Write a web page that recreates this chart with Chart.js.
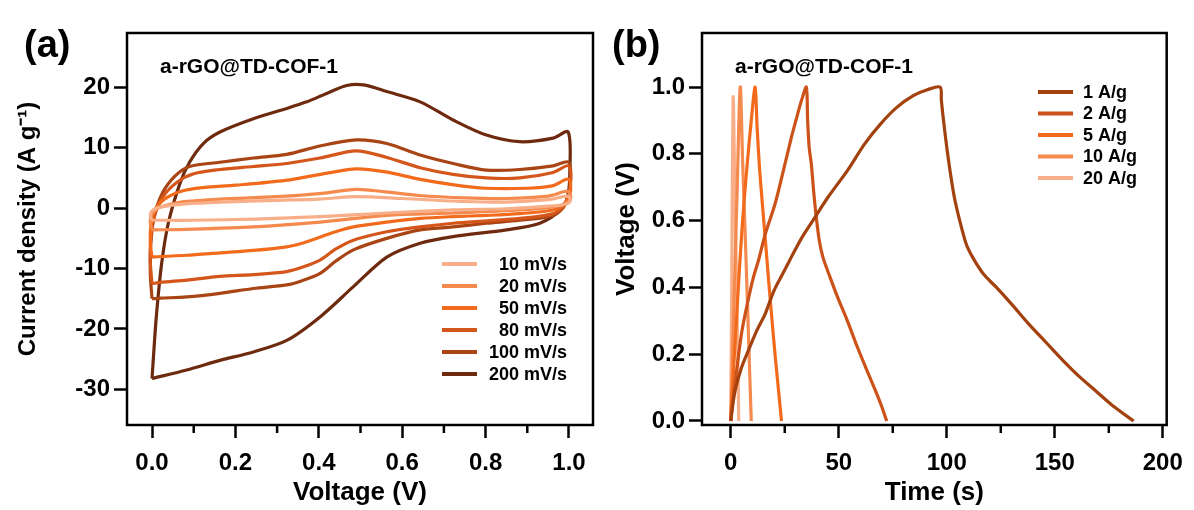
<!DOCTYPE html>
<html>
<head>
<meta charset="utf-8">
<script src="https://cdn.jsdelivr.net/npm/chart.js@4.4.1/dist/chart.umd.min.js"></script>
<style>
  html, body { margin: 0; padding: 0; background: #fff; }
  #wrapA { position: absolute; left: 0; top: 0; width: 600px; height: 510px; }
  #wrapB { position: absolute; left: 600px; top: 0; width: 594px; height: 510px; }
</style>
</head>
<body>
<div id="wrapA"><canvas id="cvChart"></canvas></div>
<div id="wrapB"><canvas id="gcdChart"></canvas></div>
<script>
'use strict';
const FONT = '"Liberation Sans", Arial, Helvetica, sans-serif';

// (a) CV loops: [voltage (V), current density (A/g)]
const cv10 = [[0,-2.0],[-0.004,-1.4],[-0.002,-0.6],[0.01,0.0],[0.03,0.3],[0.08,0.7],[0.163,1.0],[0.3,1.3],[0.4,1.5],[0.49,1.9],[0.6,1.6],[0.75,1.1],[0.85,1.0],[0.95,1.4],[0.998,2.0],[1.003,1.2],[0.99,0.6],[0.962,0.4],[0.85,-0.1],[0.722,-0.3],[0.563,-0.8],[0.403,-1.4],[0.25,-1.8],[0.1,-2.0],[0,-2.0]];
const cv20 = [[0,-3.6],[-0.004,-2.6],[-0.002,-1.2],[0.01,-0.2],[0.03,0.4],[0.07,1.0],[0.12,1.3],[0.163,1.5],[0.3,1.9],[0.4,2.4],[0.49,3.1],[0.56,2.7],[0.64,2.1],[0.75,1.7],[0.85,1.6],[0.95,2.0],[0.998,2.8],[1.004,1.6],[0.99,0.7],[0.962,0.2],[0.882,-0.3],[0.722,-0.8],[0.563,-1.2],[0.403,-2.3],[0.243,-3.1],[0.083,-3.5],[0,-3.6]];
const cv50 = [[0,-8.1],[-0.004,-6.0],[-0.003,-3.0],[0.005,-0.5],[0.03,1.5],[0.07,2.8],[0.12,3.4],[0.2,3.8],[0.32,4.6],[0.42,5.8],[0.49,6.5],[0.56,6.0],[0.64,4.8],[0.72,3.9],[0.8,3.3],[0.9,3.3],[0.96,3.7],[0.999,4.8],[1.003,2.5],[0.985,0.5],[0.962,-0.3],[0.882,-0.9],[0.802,-1.2],[0.722,-1.4],[0.643,-1.7],[0.563,-2.3],[0.483,-3.1],[0.44,-3.9],[0.403,-4.8],[0.36,-5.8],[0.323,-6.4],[0.243,-7.0],[0.163,-7.4],[0.083,-7.8],[0.02,-8.0],[0,-8.1]];
const cv80 = [[0,-12.5],[-0.004,-9.0],[-0.003,-5.0],[0.005,-1.5],[0.025,1.8],[0.06,4.3],[0.1,5.7],[0.163,6.4],[0.243,6.9],[0.323,7.4],[0.403,8.3],[0.49,9.5],[0.563,8.4],[0.643,6.7],[0.722,5.6],[0.802,5.0],[0.882,5.0],[0.962,5.9],[0.999,7.0],[1.003,3.5],[0.99,0.5],[0.962,-0.9],[0.882,-1.7],[0.802,-2.1],[0.722,-2.5],[0.643,-3.1],[0.563,-3.9],[0.483,-5.3],[0.44,-6.8],[0.403,-8.6],[0.36,-9.8],[0.323,-10.5],[0.243,-11.0],[0.163,-11.3],[0.083,-11.9],[0.02,-12.3],[0,-12.5]];
const cv100 = [[0,-15.0],[-0.004,-11.0],[-0.003,-6.0],[0.005,-1.5],[0.025,2.5],[0.055,5.3],[0.09,6.9],[0.163,7.6],[0.243,8.3],[0.323,8.9],[0.403,10.3],[0.49,11.3],[0.563,10.7],[0.643,8.8],[0.722,7.4],[0.802,6.3],[0.882,6.4],[0.962,7.0],[0.999,7.6],[1.003,4.0],[0.99,0.5],[0.962,-1.2],[0.882,-2.0],[0.802,-2.5],[0.722,-3.1],[0.643,-3.6],[0.563,-5.0],[0.483,-6.9],[0.44,-8.8],[0.403,-10.8],[0.36,-12.0],[0.323,-12.7],[0.243,-13.3],[0.163,-14.1],[0.083,-14.7],[0.02,-14.9],[0,-15.0]];
const cv200 = [[0,-28.2],[0.005,-23.0],[0.011,-17.4],[0.023,-9.2],[0.039,-2.5],[0.067,4.1],[0.09,7.6],[0.123,10.7],[0.163,12.6],[0.243,14.8],[0.323,16.5],[0.371,17.6],[0.419,19.0],[0.467,20.3],[0.507,20.4],[0.563,19.3],[0.643,17.6],[0.722,14.6],[0.802,12.1],[0.882,11.0],[0.962,11.6],[0.998,12.6],[1.002,6.0],[0.997,2.0],[0.98,-0.3],[0.93,-2.5],[0.85,-3.6],[0.722,-4.7],[0.643,-5.8],[0.563,-8.1],[0.483,-13.0],[0.403,-18.0],[0.323,-21.9],[0.243,-23.8],[0.163,-25.2],[0.083,-26.8],[0,-28.2]];
const cvLabels = ['10 mV/s', '20 mV/s', '50 mV/s', '80 mV/s', '100 mV/s', '200 mV/s'];
const cvColors = ['#F8AE88', '#F58A4E', '#F26B1D', '#D4561B', '#A94415', '#6E2A0F'];
const cvXTicks = [0, 0.2, 0.4, 0.6, 0.8, 1.0];
const cvXMinor = [0.1, 0.3, 0.5, 0.7, 0.9];
const cvYTicks = [-30, -20, -10, 0, 10, 20];

// (b) GCD curves: [time (s), voltage (V)]
const gcd1 = [[0,0],[1,0.05],[2.1,0.093],[5,0.16],[8.3,0.213],[12,0.27],[15.9,0.32],[20,0.39],[24,0.44],[28,0.49],[33,0.55],[38,0.6],[45,0.67],[54,0.75],[62,0.83],[69.4,0.89],[77,0.94],[84.7,0.975],[91,0.992],[96.9,1.0],[97.5,0.96],[98.5,0.9],[100,0.82],[101.5,0.75],[103.5,0.67],[106,0.6],[109,0.53],[112,0.49],[117,0.44],[123,0.4],[130,0.35],[138,0.29],[146,0.235],[153.5,0.183],[161,0.135],[169,0.09],[177,0.045],[186.5,0]];
const gcd2 = [[0,0],[1,0.06],[2.5,0.14],[5.2,0.27],[8,0.36],[10.5,0.43],[12.8,0.48],[16,0.56],[20.5,0.65],[24,0.74],[28.1,0.85],[31,0.92],[33,0.965],[35,1.0],[35.6,0.9],[36.3,0.82],[37.3,0.77],[38.5,0.68],[39.6,0.61],[41,0.54],[42.7,0.49],[46,0.43],[49.5,0.37],[54,0.3],[58.7,0.22],[62.5,0.16],[66.4,0.1],[69.5,0.05],[72.2,0]];
const gcd5 = [[0,0],[1,0.12],[2,0.23],[3.7,0.42],[5.5,0.6],[7.5,0.76],[9.5,0.9],[11.3,1.0],[12.2,0.88],[13.3,0.76],[14.4,0.67],[16.3,0.52],[18.2,0.37],[20.5,0.2],[22,0.1],[23.5,0]];
const gcd10 = [[0,0],[1.5,0.35],[3,0.7],[4.4,1.0],[5.5,0.78],[7,0.5],[8.3,0.24],[9.5,0]];
const gcd20 = [[0,0],[0.5,0.45],[1.1,0.97],[2,0.65],[3,0.3],[3.7,0]];
const gcdLabels = ['1 A/g', '2 A/g', '5 A/g', '10 A/g', '20 A/g'];
const gcdColors = ['#A3410F', '#CC521A', '#F26B1D', '#F58A4E', '#F8AE88'];
const gcdXTicks = [0, 50, 100, 150, 200];
const gcdXMinor = [25, 75, 125, 175];
const gcdYTicks = [0, 0.2, 0.4, 0.6, 0.8, 1.0];

// frame, minor ticks, panel letter, sample name and legend
const panelDeco = {
    id: 'panelDeco',
    afterDraw(chart, args, opts) {
        const { ctx, chartArea: a, scales } = chart;
        ctx.save();
        ctx.strokeStyle = '#000';
        ctx.lineWidth = 2.5;
        ctx.strokeRect(a.left, a.top, a.right - a.left, a.bottom - a.top);
        opts.minor.forEach(v => {
            const x = scales.x.getPixelForValue(v);
            ctx.beginPath();
            ctx.moveTo(x, a.bottom);
            ctx.lineTo(x, a.bottom + 8);
            ctx.stroke();
        });
        ctx.fillStyle = '#000';
        ctx.textBaseline = 'alphabetic';
        ctx.textAlign = 'left';
        ctx.font = 'bold 38px ' + FONT;
        ctx.fillText(opts.letter, opts.letterX, 57);
        ctx.font = 'bold 21px ' + FONT;
        ctx.fillText('a-rGO@TD-COF-1', opts.nameX, 73);
        // legend
        ctx.font = 'bold 18px ' + FONT;
        ctx.textBaseline = 'middle';
        ctx.textAlign = opts.textAlign;
        chart.data.datasets.forEach((ds, i) => {
            const y = opts.legendY + i * opts.legendStep;
            ctx.strokeStyle = ds.borderColor;
            ctx.lineWidth = 4;
            ctx.beginPath();
            ctx.moveTo(opts.lineX0, y);
            ctx.lineTo(opts.lineX1, y);
            ctx.stroke();
            ctx.fillText(ds.label, opts.textX, y + 1);
        });
        ctx.restore();
    }
};

const tickFont = { family: FONT, size: 24, weight: 'bold' };

function makeDatasets(series, labels, colors) {
    return series.map((pts, i) => ({
        label: labels[i],
        data: pts.map(p => ({ x: p[0], y: p[1] })),
        borderColor: colors[i],
        backgroundColor: colors[i],
        borderWidth: 3.2,
        pointRadius: 0,
        showLine: true,
        fill: false,
        tension: 0.3
    }));
}

function axis(min, max, tickValues, fmt, size, title, titleSize, titlePad) {
    const horiz = size === 85;
    return {
        type: 'linear',
        min: min,
        max: max,
        afterBuildTicks: s => { s.ticks = tickValues.map(v => ({ value: v })); },
        afterFit: s => { if (s.isHorizontal()) s.height = size; else s.width = size; },
        grid: { display: true, drawOnChartArea: false, drawTicks: true, tickLength: 13, tickWidth: 2.5, tickColor: '#000' },
        border: { display: false },
        ticks: { color: '#000', font: tickFont, padding: horiz ? 11 : 4, maxRotation: 0, autoSkip: false, callback: fmt },
        title: { display: true, text: title, color: '#000', font: { family: FONT, size: titleSize, weight: 'bold' }, padding: titlePad }
    };
}

const cvChart = new Chart(document.getElementById('cvChart'), {
    type: 'scatter',
    data: { datasets: makeDatasets([cv10, cv20, cv50, cv80, cv100, cv200], cvLabels, cvColors) },
    options: {
        responsive: true,
        maintainAspectRatio: false,
        animation: false,
        layout: { padding: { left: 0, top: 33, right: 7, bottom: 0 } },
        plugins: {
            legend: { display: false },
            tooltip: { enabled: false },
            panelDeco: {
                minor: cvXMinor, letter: '(a)', letterX: 24, nameX: 160,
                legendY: 264, legendStep: 22, lineX0: 442, lineX1: 477, textX: 567, textAlign: 'right'
            }
        },
        scales: {
            x: axis(-0.06, 1.0576, cvXTicks, v => v.toFixed(1), 85, 'Voltage (V)', 26, { top: 0, bottom: 2 }),
            y: axis(-35.9, 29.0, cvYTicks, v => String(v), 127, 'Current density (A g\u207B\u00B9)', 24, { top: 14, bottom: 0 })
        }
    },
    plugins: [panelDeco]
});

const gcdChart = new Chart(document.getElementById('gcdChart'), {
    type: 'scatter',
    data: { datasets: makeDatasets([gcd1, gcd2, gcd5, gcd10, gcd20], gcdLabels, gcdColors) },
    options: {
        responsive: true,
        maintainAspectRatio: false,
        animation: false,
        layout: { padding: { left: 0, top: 33, right: 22, bottom: 0 } },
        plugins: {
            legend: { display: false },
            tooltip: { enabled: false },
            panelDeco: {
                minor: gcdXMinor, letter: '(b)', letterX: 12, nameX: 135,
                legendY: 92, legendStep: 21.5, lineX0: 438, lineX1: 473, textX: 483, textAlign: 'left'
            }
        },
        scales: {
            x: axis(-13.3, 201.8, gcdXTicks, v => String(v), 85, 'Time (s)', 26, { top: 0, bottom: 2 }),
            y: axis(-0.012, 1.162, gcdYTicks, v => v.toFixed(1), 102, 'Voltage (V)', 26, { top: 11, bottom: 0 })
        }
    },
    plugins: [panelDeco]
});
</script>
</body>
</html>
